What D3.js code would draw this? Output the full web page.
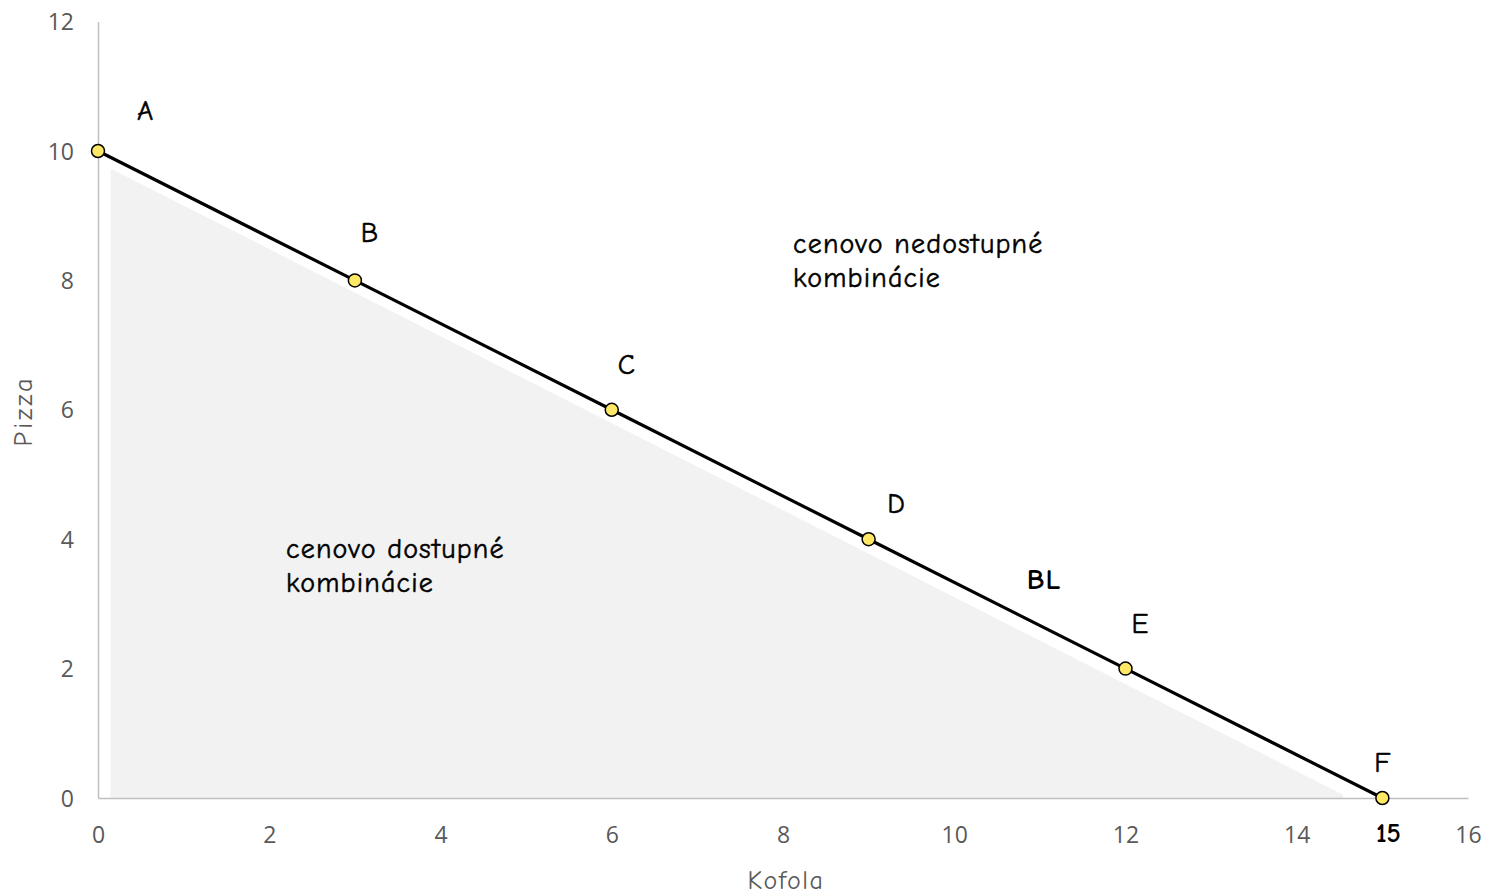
<!DOCTYPE html>
<html>
<head>
<meta charset="utf-8">
<script src="https://cdn.jsdelivr.net/npm/d3@7/dist/d3.min.js"></script>
<style>
  html, body { margin: 0; padding: 0; background: #fff; }
  svg { display: block; }
</style>
</head>
<body>
<svg id="chart" width="1485" height="896"></svg>
<script>
// ---- data ----
const pointLabels = ["A", "B", "C", "D", "E", "F"];
const kofola = [0, 3, 6, 9, 12, 15];
const pizza  = [10, 8, 6, 4, 2, 0];
// label anchor positions (data units)
const labelX = [0.55, 3.17, 6.17, 9.32, 12.17, 15.0];
const labelY = [10.63, 8.75, 6.71, 4.55, 2.7, 0.55];
// affordable region (shaded triangle), data units
const regionX = [0.17, 0.17, 14.52];
const regionY = [9.68, 0.03, 0.03];
const xTicks = [0, 2, 4, 6, 8, 10, 12, 14, 16];
const yTicks = [0, 2, 4, 6, 8, 10, 12];
const xTitle = "Kofola";
const yTitle = "Pizza";
const textAffordable = ["cenovo dostupné", "kombinácie"];
const textUnaffordable = ["cenovo nedostupné", "kombinácie"];
const lineLabel = "BL";
const interceptLabel = "15";

// ---- layout ----
const svg = d3.select("#chart");
const mLeft = 98, mRight = 1468, mTop = 21.6, mBottom = 798;
const x = d3.scaleLinear().domain([0, 16]).range([mLeft, mRight]);
const y = d3.scaleLinear().domain([0, 12]).range([mBottom, mTop]);
const comic = "'Comic Sans MS', 'Comic Neue', 'Chalkboard SE', 'Open Sans', sans-serif";
const tickFont = "'Open Sans', 'Segoe UI', 'Noto Sans', sans-serif";
const gray = "#595959";

// shaded region
const pts = regionX.map((v, i) => [x(v), y(regionY[i])]);
svg.append("path")
  .attr("d", "M" + pts.map(p => p.join(",")).join("L") + "Z")
  .attr("fill", "#f2f2f2")
  .attr("stroke", "#f2f2f2")
  .attr("stroke-width", 4)
  .attr("stroke-linejoin", "round");

// axes
const xAxis = svg.append("g").attr("transform", `translate(0,${mBottom})`)
  .call(d3.axisBottom(x).tickValues(xTicks).tickSize(0).tickPadding(27).tickFormat(d3.format("d")));
const yAxis = svg.append("g").attr("transform", `translate(${mLeft},0)`)
  .call(d3.axisLeft(y).tickValues(yTicks).tickSize(0).tickPadding(24).tickFormat(d3.format("d")));
[xAxis, yAxis].forEach(g => {
  g.select(".domain").attr("stroke", "#bfbfbf").attr("stroke-width", 1.5);
  g.selectAll("text").attr("fill", gray).style("font-family", tickFont).style("font-size", "23px");
});
xAxis.selectAll("text").attr("dy", "0.35em").attr("y", 37);
yAxis.selectAll("text").attr("dy", "0.35em");

// axis titles
svg.append("text").attr("x", 786).attr("y", 889).attr("text-anchor", "middle")
  .attr("fill", gray).style("font-family", comic).style("font-size", "26px")
  .style("letter-spacing", "1.5px").text(xTitle);
svg.append("text").attr("transform", "translate(32,411) rotate(-90)").attr("text-anchor", "middle")
  .attr("fill", gray).style("font-family", comic).style("font-size", "26px")
  .style("letter-spacing", "3px").text(yTitle);

// budget line
const data = kofola.map((k, i) => ({ k, p: pizza[i], label: pointLabels[i], lx: labelX[i], ly: labelY[i] }));
svg.append("path").datum(data)
  .attr("d", d3.line().x(d => x(d.k)).y(d => y(d.p)))
  .attr("fill", "none").attr("stroke", "#000").attr("stroke-width", 3.2);

svg.selectAll("circle.pt").data(data).join("circle")
  .attr("class", "pt")
  .attr("cx", d => x(d.k)).attr("cy", d => y(d.p)).attr("r", 6.5)
  .attr("fill", "#ffe866").attr("stroke", "#000").attr("stroke-width", 1.5);

svg.selectAll("text.pl").data(data).join("text")
  .attr("class", "pl")
  .attr("x", d => x(d.lx)).attr("y", d => y(d.ly)).attr("dy", "0.35em")
  .attr("text-anchor", "middle").attr("fill", "#000")
  .attr("stroke", "#000").attr("stroke-width", 0.5)
  .style("font-family", comic).style("font-size", "28px").text(d => d.label);

// intercept label
svg.append("text").attr("x", x(15) + 6).attr("y", 842).attr("text-anchor", "middle")
  .attr("fill", "#000").style("font-family", comic).style("font-size", "27px").style("font-weight", "bold")
  .text(interceptLabel);

// BL label
svg.append("text").attr("x", 1044).attr("y", 589).attr("text-anchor", "middle")
  .attr("fill", "#000").style("font-family", comic).style("font-size", "29px").style("font-weight", "bold")
  .style("letter-spacing", "1px").text(lineLabel);

// region texts
function block(lines, x0, y0) {
  const t = svg.append("text").attr("x", x0).attr("y", y0).attr("fill", "#000")
    .attr("stroke", "#000").attr("stroke-width", 0.5)
    .style("font-family", comic).style("font-size", "28px")
    .style("letter-spacing", "1.2px");
  lines.forEach((l, i) => t.append("tspan").attr("x", x0).attr("dy", i === 0 ? 0 : 34).text(l));
}
block(textAffordable, 286, 558);
block(textUnaffordable, 793, 253);
</script>
</body>
</html>
